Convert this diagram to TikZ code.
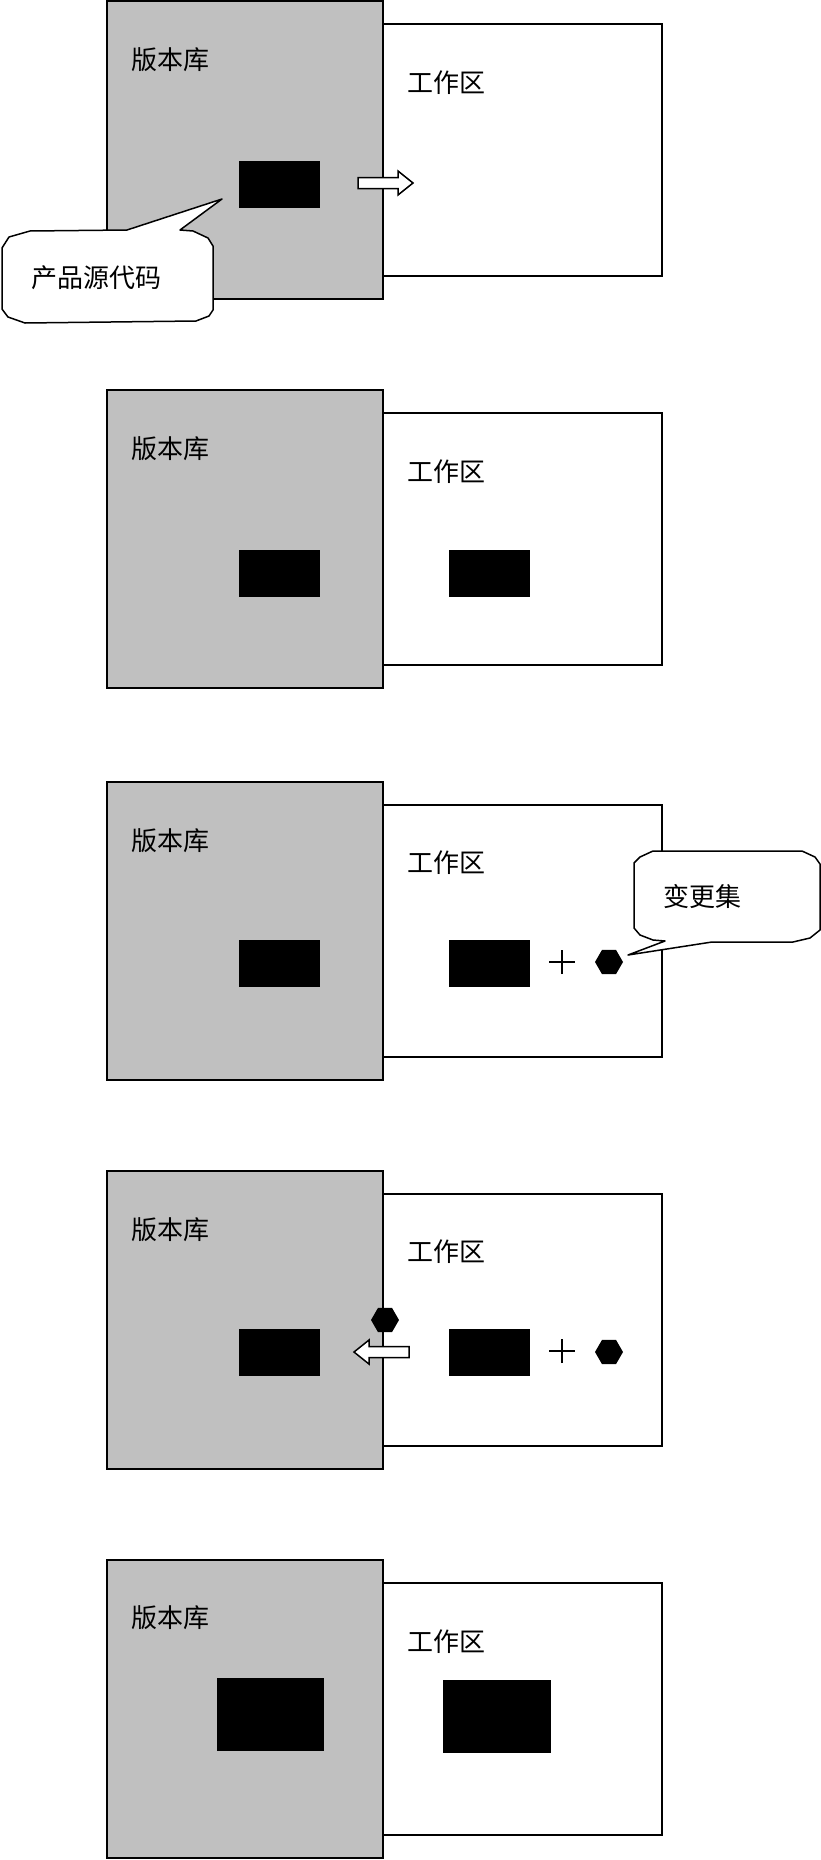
\documentclass[tikz,border=0pt]{standalone}
\usepackage{fontspec}
\newfontfamily\cjk{Noto Sans CJK SC}
\usetikzlibrary{shapes.geometric}
\definecolor{repogrey}{HTML}{C0C0C0}
\tikzset{
  repobox/.style={draw=black, line width=1.8pt, fill=repogrey, inner sep=0pt, minimum width=276pt, minimum height=298pt},
  wsbox/.style={draw=black, line width=1.8pt, fill=white, inner sep=0pt, minimum width=279pt, minimum height=252pt},
  blk/.style={fill=black, inner sep=0pt, minimum width=81pt, minimum height=47pt},
  bigblk/.style={fill=black, inner sep=0pt, minimum width=108pt, minimum height=73pt},
  lbl/.style={font=\cjk\fontsize{26}{31}\selectfont, anchor=west, inner sep=0pt},
  hexa/.style={regular polygon, regular polygon sides=6, fill=black, inner sep=0pt, minimum size=28pt},
  plusline/.style={line width=1.5pt},
  blockarrow/.style={draw=black, fill=white, line width=1.5pt, line join=miter},
  callout/.style={draw=black, fill=white, line width=1.5pt, line join=round},
}
\begin{document}
\begin{tikzpicture}[x=1pt,y=-1pt]
\useasboundingbox (0,0) rectangle (821,1860);

% ---------- Panel 1 ----------
\begin{scope}
\node[wsbox] (ws1) at (522.5,150) {};
\node[repobox] (rep1) at (245,150) {};
\node[lbl] (rl1) at (131,60) {版本库};
\node[lbl] (wl1) at (407,83) {工作区};
\node[blk] (rb1) at (279.5,184.5) {};
\draw[blockarrow] (358,177.5) -- (398,177.5) -- (398,171) -- (413,183) -- (398,195) -- (398,188.5) -- (358,188.5) -- cycle;
\draw[callout] (2,248) -- (9,237) -- (30,231) -- (127,230) -- (222,199) -- (180,230) -- (193,231) -- (208,238) -- (213,246) -- (213,310) -- (209,316) -- (196,321) -- (25,323) -- (8,317) -- (2,309) -- cycle;
\node[lbl] (cl1) at (31,278) {产品源代码};
\end{scope}

% ---------- Panel 2 ----------
\begin{scope}[yshift=-389pt]
\node[wsbox] (ws2) at (522.5,150) {};
\node[repobox] (rep2) at (245,150) {};
\node[lbl] (rl2) at (131,60) {版本库};
\node[lbl] (wl2) at (407,83) {工作区};
\node[blk] (rb2) at (279.5,184.5) {};
\node[blk] (wb2) at (489.5,184.5) {};
\end{scope}

% ---------- Panel 3 ----------
\begin{scope}[yshift=-781pt]
\node[wsbox] (ws3) at (522.5,150) {};
\node[repobox] (rep3) at (245,150) {};
\node[lbl] (rl3) at (131,60) {版本库};
\node[lbl] (wl3) at (407,82) {工作区};
\node[blk] (rb3) at (279.5,182.5) {};
\node[blk] (wb3) at (489.5,182.5) {};
\coordinate (pl3) at (562,181);
\draw[plusline] ([xshift=-13pt]pl3) -- ([xshift=13pt]pl3);
\draw[plusline] ([yshift=-12pt]pl3) -- ([yshift=12pt]pl3);
\node[hexa] (hx3) at (609,181) {};
\draw[callout] (634,82) -- (640,76) -- (653,70) -- (802,70) -- (815,76) -- (820,83) -- (820,149) -- (810,157) -- (793,161) -- (712,161) -- (628,174) -- (665,160) -- (653,159) -- (640,154) -- (634,147) -- cycle;
\node[lbl] (cl3) at (663,116) {变更集};
\end{scope}

% ---------- Panel 4 ----------
\begin{scope}[yshift=-1170pt]
\node[wsbox] (ws4) at (522.5,150) {};
\node[repobox] (rep4) at (245,150) {};
\node[lbl] (rl4) at (131,60) {版本库};
\node[lbl] (wl4) at (407,82) {工作区};
\node[blk] (rb4) at (279.5,182) {};
\node[blk] (wb4) at (489.5,182) {};
\coordinate (pl4) at (562,181);
\draw[plusline] ([xshift=-13pt]pl4) -- ([xshift=13pt]pl4);
\draw[plusline] ([yshift=-12pt]pl4) -- ([yshift=12pt]pl4);
\node[hexa] (hx4) at (609,182) {};
\node[hexa] (hx4b) at (385,150) {};
\draw[blockarrow] (409,176.5) -- (369,176.5) -- (369,170) -- (354,182) -- (369,194) -- (369,187.5) -- (409,187.5) -- cycle;
\end{scope}

% ---------- Panel 5 ----------
\begin{scope}[yshift=-1558pt]
\node[wsbox] (ws5) at (522.5,151) {};
\node[repobox] (rep5) at (245,151) {};
\node[lbl] (rl5) at (131,60) {版本库};
\node[lbl] (wl5) at (407,84) {工作区};
\node[bigblk, minimum width=107pt] (rb5) at (270.5,156.5) {};
\node[bigblk] (wb5) at (497,158.5) {};
\end{scope}
\end{tikzpicture}
\end{document}
